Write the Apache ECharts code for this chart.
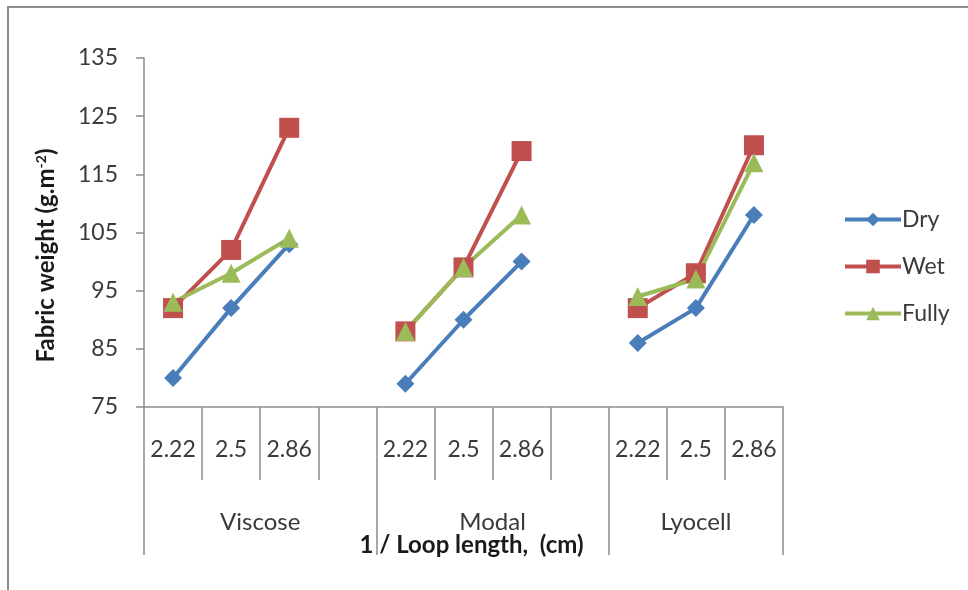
<!DOCTYPE html>
<html>
<head>
<meta charset="utf-8">
<script src="https://cdn.jsdelivr.net/npm/echarts@6/dist/echarts.min.js"></script>
<style>
  html, body { margin: 0; padding: 0; background: #fff; }
  #frame { position: absolute; left: 7px; top: 6px; width: 970px; height: 600px;
           border-left: 2px solid #8c8c8c; border-top: 2px solid #8c8c8c; }
  #main { position: absolute; left: 0; top: 0; width: 968px; height: 590px; }
</style>
</head>
<body>
<div id="frame"></div>
<div id="main"></div>
<script>
// categories: 1 / loop length per fibre, blank slot between groups
var loopLabels = ['2.22', '2.5', '2.86', '', '2.22', '2.5', '2.86', '', '2.22', '2.5', '2.86'];
var groupNames = ['Viscose', 'Modal', 'Lyocell'];
var groupEdges = [0, 4, 8, 11];      // group borders in category slots
var groupCenters = [2, 6, 9.5];

// fabric weight (g/m2), null in the blank slots
var dry   = [80, 92, 103, null, 79, 90, 100, null, 86, 92, 108];
var wet   = [92, 102, 123, null, 88, 99, 119, null, 92, 98, 120];
var fully = [93, 98, 104, null, 88, 99, 108, null, 94, 97, 117];

var yTicks = { min: 75, max: 135, step: 10 };

var FONT = 'Lato, "Open Sans", sans-serif';
var AXIS_GRAY = '#8c8c8c';
var TEXT = '#3a3a3a';

var chart = echarts.init(document.getElementById('main'), null, { renderer: 'canvas' });

function lineSeries(name, data, symbol, size, color) {
    return {
        name: name,
        type: 'line',
        data: data,
        xAxisIndex: 0,
        symbol: symbol,
        symbolSize: size,
        connectNulls: false,
        lineStyle: { width: 4, color: color },
        itemStyle: { color: color },
        emphasis: { disabled: true },
        animation: false
    };
}

chart.setOption({
    backgroundColor: 'transparent',
    textStyle: { fontFamily: FONT },
    grid: { left: 144, right: 185, top: 58, bottom: 183 },
    legend: {
        orient: 'vertical',
        left: 838,
        top: 203,
        itemWidth: 56,
        itemHeight: 17,
        itemGap: 24,
        lineStyle: { width: 4 },
        textStyle: { fontSize: 23, color: TEXT, fontFamily: FONT, padding: [0, 0, 0, -4] },
        data: ['Dry', 'Wet', 'Fully']
    },
    xAxis: [
        {
            type: 'category',
            data: loopLabels,
            boundaryGap: true,
            axisLine: { lineStyle: { color: AXIS_GRAY, width: 1.5 } },
            axisTick: { show: true, interval: 0, length: 73, lineStyle: { color: AXIS_GRAY, width: 1.5 } },
            axisLabel: { interval: 0, margin: 31, fontSize: 23, color: TEXT, fontFamily: FONT },
            name: '1 / Loop length,  (cm)',
            nameLocation: 'middle',
            nameGap: 126,
            nameTextStyle: { fontSize: 24, fontWeight: 'bold', color: '#1a1a1a', fontFamily: FONT, padding: [0, 0, 0, 16] }
        },
        {
            type: 'value',
            position: 'bottom',
            min: 0,
            max: 11,
            axisLine: { show: false },
            splitLine: { show: false },
            axisTick: {
                show: true,
                customValues: groupEdges,
                length: 148,
                lineStyle: { color: AXIS_GRAY, width: 1.5 }
            },
            axisLabel: {
                customValues: groupCenters,
                margin: 103,
                fontSize: 24,
                color: TEXT,
                fontFamily: FONT,
                formatter: function (v) {
                    return groupNames[groupCenters.indexOf(v)] || '';
                }
            }
        }
    ],
    yAxis: {
        type: 'value',
        min: yTicks.min,
        max: yTicks.max,
        interval: yTicks.step,
        splitLine: { show: false },
        axisLine: { show: true, lineStyle: { color: AXIS_GRAY, width: 1.5 } },
        axisTick: { show: true, length: 8, lineStyle: { color: AXIS_GRAY, width: 1.5 } },
        axisLabel: { fontSize: 23, color: TEXT, margin: 26, fontFamily: FONT },
        name: 'Fabric weight (g.m{sup|-2})',
        nameLocation: 'middle',
        nameRotate: 90,
        nameGap: 86,
        nameTextStyle: {
            fontSize: 24, fontWeight: 'bold', color: '#1a1a1a', fontFamily: FONT,
            padding: [0, 46, 0, 0],
            rich: { sup: { fontSize: 14, fontWeight: 'bold', color: '#1a1a1a', verticalAlign: 'top', padding: [0, 0, 10, 0] } }
        }
    },
    series: [
        lineSeries('Dry', dry, 'diamond', 18, '#4a7ebb'),
        lineSeries('Wet', wet, 'rect', 20, '#c0504d'),
        lineSeries('Fully', fully, 'triangle', 19, '#9bbb59')
    ]
});
</script>
</body>
</html>
